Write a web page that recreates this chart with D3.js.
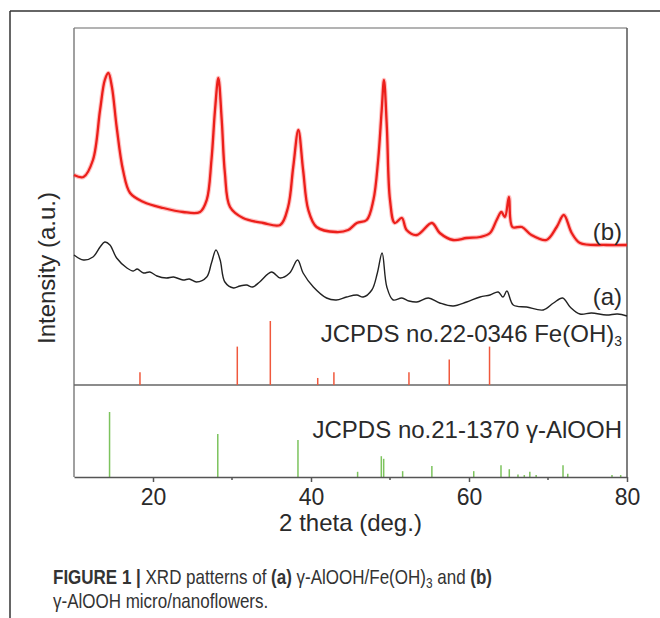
<!DOCTYPE html>
<html>
<head>
<meta charset="utf-8">
<script src="https://cdn.jsdelivr.net/npm/d3@7"></script>
<style>
  body { margin: 0; background: #fff; }
  svg { display: block; font-family: Arial, "Liberation Sans", sans-serif; }
  .big { font-size: 24px; fill: #2a2a2a; }
  .caption { font-family: "Liberation Sans Narrow", "Arial Narrow", Arial, sans-serif; font-size: 20px; fill: #333; }
</style>
</head>
<body>
<svg id="svg1" width="660" height="618"></svg>
<script>
// 2 theta (deg.) and intensity (a.u.)
var curveB = [
  [10.0,210],[11.2,208],[12.4,225],[13.3,275],[13.9,305],[14.35,312],[14.8,298],[15.4,258],
  [16.2,215],[17.1,192],[18.8,183],[21.3,177],[23.8,173],[25.95,173],[26.8,185],[27.4,225],
  [27.85,275],[28.27,307],[28.7,265],[29.1,212],[29.75,178],[31.4,167],[33.96,162],[36.1,160],
  [37.1,178],[37.75,218],[38.4,255],[39.0,215],[39.66,175],[40.7,158],[43.2,153],[44.7,155],
  [45.8,162],[47.05,165],[47.9,185],[48.5,225],[48.95,275],[49.24,305],[49.6,258],[50.0,185],
  [50.6,162],[51.5,167],[52.1,155],[53.4,150],[55.3,162],[56.3,152],[58.0,145],[59.7,147],
  [61.4,148],[62.66,152],[63.5,165],[64.1,173],[64.55,168],[65.06,188],[65.5,158],[66.7,158],
  [67.9,150],[69.8,145],[71.1,158],[72.0,170],[73.0,152],[74.05,142],[77.4,140],[80.0,140]
];

var curveA = [
  [10.0,130],[11.2,125],[12.4,128],[13.3,138],[13.9,143],[14.55,140],[15.4,127],[16.7,117],
  [17.5,114],[18.0,116],[18.8,112],[19.6,113],[20.5,109],[21.7,107],[22.6,108],[23.8,105],
  [24.6,106],[25.5,103],[26.8,108],[27.4,122],[27.97,135],[28.5,125],
  [29.1,103],[30.2,97],[31.0,99],[31.85,100],[32.6,98],[33.5,103],[35.0,113],[36.1,107],[37.3,112],[38.3,125],
  [39.0,112],[40.3,98],[41.97,87],[43.2,85],[44.5,88],[45.8,90],[46.6,88],[47.7,95],[48.4,112],
  [49.0,132],[49.6,98],[50.4,85],[51.5,87],[52.4,84],[53.4,83],[54.85,87],[56.3,82],[58.0,79],
  [59.7,83],[61.4,88],[62.66,90],[63.7,93],[64.3,88],[64.8,94],[65.6,80],[67.3,78],
  [69.4,75],[70.7,82],[71.85,87],[72.8,78],[74.05,71],[75.5,72],[77.4,70],[78.8,71],[80.0,69]
];

// JCPDS 22-0346 Fe(OH)3 reference lines
var feTheta = [18.35, 30.67, 34.85, 40.85, 42.9, 52.4, 57.5, 62.6];
var feInt = [20, 60, 100, 11, 20, 20, 40, 60];

// JCPDS 21-1370 gamma-AlOOH reference lines
var alTheta = [14.5, 28.2, 38.35, 45.9, 48.9, 49.2, 51.6, 55.3, 60.6, 64.05, 65.1, 66.2, 67.0, 67.7, 68.5, 71.9, 72.5, 78.1, 79.2];
var alInt = [100, 66, 57, 8, 32, 28, 9, 17, 9, 18, 12, 4, 3, 8, 3, 18, 5, 3, 3];

var majorTicks = [20, 40, 60, 80];
var minorTicks = [30, 50, 70];

var svg = d3.select('#svg1');

// (don't call it "top", window.top is read-only)
var plotLeft = 74, plotRight = 627, plotTop = 28, plotMid = 385, plotBottom = 477;

var x = d3.scaleLinear().domain([10, 80]).range([plotLeft, plotRight]);
var yCurve = d3.scaleLinear().domain([0, 357]).range([plotMid, plotTop]);
var yFe = d3.scaleLinear().domain([0, 100]).range([plotMid, plotMid - 64]);
var yAl = d3.scaleLinear().domain([0, 100]).range([plotBottom, plotBottom - 65]);

// figure frame (top + left rule)
svg.append('line').attr('x1', 10).attr('x2', 660).attr('y1', 11).attr('y2', 11)
  .attr('stroke', '#333').attr('stroke-width', 1.5);
svg.append('line').attr('x1', 10).attr('x2', 10).attr('y1', 11).attr('y2', 618)
  .attr('stroke', '#333').attr('stroke-width', 1.5);

// plot box
svg.append('line').attr('x1', plotLeft).attr('x2', plotRight).attr('y1', plotTop).attr('y2', plotTop)
  .attr('stroke', '#9a9a9a').attr('stroke-width', 1.5);
svg.append('line').attr('x1', plotLeft).attr('x2', plotLeft).attr('y1', plotTop).attr('y2', plotBottom)
  .attr('stroke', '#808080').attr('stroke-width', 1.5);
svg.append('line').attr('x1', plotRight).attr('x2', plotRight).attr('y1', plotTop).attr('y2', plotBottom)
  .attr('stroke', '#555').attr('stroke-width', 1.5);
svg.append('line').attr('x1', plotLeft).attr('x2', plotRight).attr('y1', plotMid).attr('y2', plotMid)
  .attr('stroke', '#666').attr('stroke-width', 1.5);

// reference sticks
svg.selectAll('.fe')
  .data(feTheta)
  .enter()
  .append('line')
  .attr('class', 'fe')
  .attr('x1', function(d) { return x(d); })
  .attr('x2', function(d) { return x(d); })
  .attr('y1', yFe(0))
  .attr('y2', function(d, i) { return yFe(feInt[i]); })
  .attr('stroke', '#f0583c')
  .attr('stroke-width', 1.5);

svg.selectAll('.al')
  .data(alTheta)
  .enter()
  .append('line')
  .attr('class', 'al')
  .attr('x1', function(d) { return x(d); })
  .attr('x2', function(d) { return x(d); })
  .attr('y1', yAl(0))
  .attr('y2', function(d, i) { return yAl(alInt[i]); })
  .attr('stroke', '#7cc35d')
  .attr('stroke-width', 1.5);

// patterns
var line = d3.line()
  .x(function(d) { return x(d[0]); })
  .y(function(d) { return yCurve(d[1]); })
  .curve(d3.curveCatmullRom.alpha(0.5));

svg.append('path').datum(curveB).attr('d', line)
  .attr('fill', 'none').attr('stroke', '#f33').attr('stroke-width', 4.5).attr('stroke-opacity', 0.3);
svg.append('path').datum(curveB).attr('d', line)
  .attr('fill', 'none').attr('stroke', '#ec1f1b').attr('stroke-width', 2.3);
svg.append('path').datum(curveA).attr('d', line)
  .attr('fill', 'none').attr('stroke', '#222').attr('stroke-width', 1.4);

// bottom axis
var axis = svg.append('g')
  .attr('transform', 'translate(0,' + plotBottom + ')')
  .call(d3.axisBottom(x).tickValues(majorTicks).tickSize(5).tickSizeOuter(0));
axis.select('.domain').attr('stroke', '#555').attr('stroke-width', 1.5);
axis.selectAll('.tick line').attr('stroke', '#555').attr('stroke-width', 1.5);
axis.selectAll('.tick text')
  .attr('font-size', 23).attr('font-family', 'Arial, "Liberation Sans", sans-serif')
  .attr('fill', '#2a2a2a').attr('dy', '0.85em');

svg.append('g')
  .attr('transform', 'translate(0,' + plotBottom + ')')
  .selectAll('line')
  .data(minorTicks)
  .enter()
  .append('line')
  .attr('x1', function(d) { return x(d); })
  .attr('x2', function(d) { return x(d); })
  .attr('y1', 0).attr('y2', 3)
  .attr('stroke', '#555').attr('stroke-width', 1.5);

// labels
svg.append('text').attr('class', 'big')
  .attr('x', (plotLeft + plotRight) / 2).attr('y', 531)
  .attr('text-anchor', 'middle')
  .text('2 theta (deg.)');

svg.append('text').attr('class', 'big')
  .attr('transform', 'translate(55,268) rotate(-90)')
  .attr('text-anchor', 'middle')
  .text('Intensity (a.u.)');

svg.append('text').attr('class', 'big')
  .attr('x', 622).attr('y', 240).attr('text-anchor', 'end').text('(b)');
svg.append('text').attr('class', 'big')
  .attr('x', 622).attr('y', 305).attr('text-anchor', 'end').text('(a)');

var fe = svg.append('text').attr('class', 'big')
  .attr('x', 622).attr('y', 342).attr('text-anchor', 'end');
fe.append('tspan').text('JCPDS no.22-0346 Fe(OH)');
fe.append('tspan').attr('font-size', 14).attr('dy', 4).text('3');

svg.append('text').attr('class', 'big')
  .attr('x', 622).attr('y', 438).attr('text-anchor', 'end')
  .text('JCPDS no.21-1370 γ-AlOOH');

// caption (condensed face squeezed horizontally)
var capG = svg.append('g').attr('transform', 'translate(53,0) scale(0.85,1)');
var cap1 = capG.append('text').attr('class', 'caption').attr('x', 0).attr('y', 584);
cap1.append('tspan').attr('font-weight', 'bold').text('FIGURE 1 | ');
cap1.append('tspan').text('XRD patterns of ');
cap1.append('tspan').attr('font-weight', 'bold').text('(a)');
cap1.append('tspan').text(' γ-AlOOH/Fe(OH)');
cap1.append('tspan').attr('font-size', 14).attr('dy', 4).text('3');
cap1.append('tspan').attr('dy', -4).text(' and ');
cap1.append('tspan').attr('font-weight', 'bold').text('(b)');

capG.append('text').attr('class', 'caption').attr('x', 0).attr('y', 608)
  .text('γ-AlOOH micro/nanoflowers.');
</script>
</body>
</html>
